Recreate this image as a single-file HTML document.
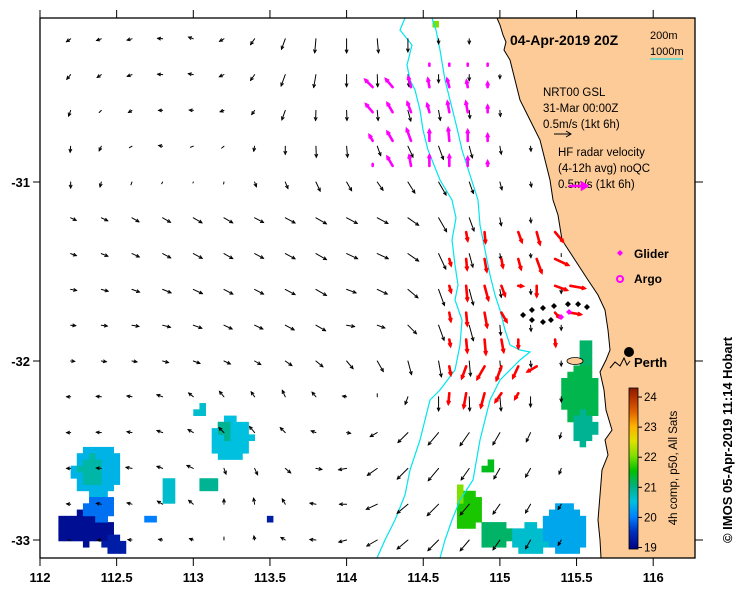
<!DOCTYPE html>
<html><head><meta charset="utf-8">
<style>
html,body{margin:0;padding:0;background:#fff;}
svg{display:block;font-family:"Liberation Sans",sans-serif;}
</style></head>
<body>
<svg id="map" width="739" height="592" viewBox="0 0 739 592" xmlns="http://www.w3.org/2000/svg">
<defs>
<linearGradient id="cbar" x1="0" y1="0" x2="0" y2="1">
<stop offset="0" stop-color="#8b1a00"/><stop offset="0.056" stop-color="#b03000"/>
<stop offset="0.146" stop-color="#e06000"/><stop offset="0.236" stop-color="#ffb000"/>
<stop offset="0.33" stop-color="#e0e000"/><stop offset="0.42" stop-color="#80e000"/>
<stop offset="0.515" stop-color="#00c000"/><stop offset="0.61" stop-color="#00b080"/>
<stop offset="0.705" stop-color="#00c0e0"/><stop offset="0.8" stop-color="#0080ff"/>
<stop offset="0.89" stop-color="#0030c0"/><stop offset="1" stop-color="#000080"/>
</linearGradient>
<clipPath id="plotclip"><rect x="40" y="18" width="655" height="540"/></clipPath>
</defs>
<g id="plot" clip-path="url(#plotclip)">
<g id="sst"></g>
<polygon id="land" fill="#fdcb98" stroke="#000" stroke-width="1"
points="497,18 500,25 503,35 506,42 504,50 510,60 515,80 520,100 530,120 540,140 545,160 550,180 553,200 558,215 562,240 575,260 588,280 598,295 605,310 608,330 610,350 606,360 600,372 604,390 606,410 612,430 605,440 608,455 602,470 600,495 598,520 600,540 601,558 700,558 700,10 497,10"/>
<ellipse cx="575" cy="361" rx="8" ry="3.5" fill="#fdcb98" stroke="#000" stroke-width="0.8"/>
<polyline fill="none" stroke="#00e5ee" stroke-width="1.2" points="405,18 400,30 412,45 407,65 410,80 415,90 420,110 423,130 428,150 440,180 452,200 456,218 452,240 455,265 458,285 455,300 462,320 460,345 455,370 440,390 430,400 425,420 420,440 410,470 405,495 395,520 385,540 377,558"/>
<polyline fill="none" stroke="#00e5ee" stroke-width="1.2" points="432,18 436,30 440,50 445,80 450,100 457,128 462,150 470,175 478,200 480,225 485,250 490,275 495,295 500,310 505,330 510,345 520,350 530,352 520,360 513,367 500,380 490,400 480,440 473,480 460,500 452,520 445,540 440,558"/>
<g id="blackvec"></g>
<g id="magvec"></g>
<g id="redvec"></g>
<g id="glider"></g>
</g>
<rect x="40" y="18" width="655" height="540" fill="none" stroke="#000" stroke-width="1.3"/>
<g id="axes" font-weight="bold" font-size="13"></g>
<!-- legend -->
<text x="510" y="45" font-size="14" font-weight="bold">04-Apr-2019 20Z</text>
<text x="650" y="39" font-size="11">200m</text>
<text x="650" y="55" font-size="11">1000m</text>
<line x1="650" y1="59" x2="683" y2="59" stroke="#00e5ee" stroke-width="1"/>
<text x="543" y="96" font-size="11.5">NRT00 GSL</text>
<text x="543" y="112" font-size="11.5">31-Mar 00:00Z</text>
<text x="543" y="128" font-size="11.5">0.5m/s (1kt 6h)</text>
<g stroke="#000" stroke-width="1"><line x1="554" y1="134" x2="571" y2="134"/><path d="M566,131 L571,134 L566,137" fill="none"/></g>
<text x="558" y="156" font-size="11.5">HF radar velocity</text>
<text x="558" y="172" font-size="11.5">(4-12h avg) noQC</text>
<text x="558" y="188" font-size="11.5">0.5m/s (1kt 6h)</text>
<g stroke="#ff00ff" stroke-width="2.5"><line x1="569" y1="186" x2="586" y2="186"/><path d="M582,183 L587,186 L582,189 Z" fill="#ff00ff"/></g>
<path d="M620,250 L623,253 L620,256 L617,253 Z" fill="#ff00ff"/>
<text x="634" y="258" font-size="12" font-weight="bold">Glider</text>
<circle cx="620" cy="279" r="3" fill="none" stroke="#ff00ff" stroke-width="2"/>
<text x="634" y="283" font-size="12" font-weight="bold">Argo</text>
<circle cx="629" cy="352" r="5" fill="#000"/>
<path d="M610,368 L615,362 L620,366 L624,358 L627,365 L630,361" fill="none" stroke="#000" stroke-width="1"/>
<text x="634" y="367" font-size="13" font-weight="bold">Perth</text>
<rect x="629" y="388" width="9" height="161" fill="url(#cbar)" stroke="#000" stroke-width="0.8"/>
<g id="cbticks" font-size="11.5"></g>
<text transform="translate(677,468) rotate(-90)" text-anchor="middle" font-size="11.5">4h comp, p50, All Sats</text>
<text transform="translate(732,440) rotate(-90)" text-anchor="middle" font-size="13" font-weight="bold">© IMOS 05-Apr-2019 11:14 Hobart</text>
<script>
// ---- data ----
var xTicks = [112, 112.5, 113, 113.5, 114, 114.5, 115, 115.5, 116];
var xTickLabels = ["112","112.5","113","113.5","114","114.5","115","115.5","116"];
var yTicks = [-31, -32, -33];
var yTickLabels = ["-31","-32","-33"];
var cbTicks = [24, 23, 22, 21, 20, 19];
var cbTemps = [24.3, 24, 23.5, 23, 22.5, 22, 21.5, 21, 20.5, 20, 19.5, 19];
var cbColors = ["#8b1a00","#b03000","#e06000","#ffb000","#e0e000","#80e000","#00c000","#00b080","#00c0e0","#0080ff","#0030c0","#000080"];
// model current grid: lon 112.2..115.4 step 0.2, lat -30.2..-33.0 step -0.2; [direction deg toward, length px]
var gridLons = [112.2,112.4,112.6,112.8,113.0,113.2,113.4,113.6,113.8,114.0,114.2,114.4,114.6,114.8,115.0,115.2,115.4];
var gridLats = [-30.2,-30.4,-30.6,-30.8,-31.0,-31.2,-31.4,-31.6,-31.8,-32.0,-32.2,-32.4,-32.6,-32.8,-33.0];
var modelVec = [
[[235,5],[250,5],[255,5],[275,5],[290,5],[240,5],[215,7],[200,11],[185,14],[180,14],[175,14],[180,13],[180,5],[180,5],null,null,null],
[[220,6],[235,5],[250,5],[275,5],[280,5],[245,5],[215,7],[200,12],[190,13],[180,12],[178,12],[175,12],[180,8],[180,6],[180,4],null,null],
[[200,6],[225,3],[240,4],[270,4],[275,4],[250,4],[215,5],[200,10],[182,10],[178,10],[175,10],[165,11],[170,10],[175,8],[175,6],null,null],
[[185,6],[205,5],[240,3],[280,4],[250,3],[230,3],[190,5],[180,8],[178,11],[175,11],[160,10],[155,12],[160,14],[165,12],[170,8],[175,5],null],
[[180,6],[195,5],[200,3],[210,2],[200,1],[190,2],[160,5],[158,7],[155,10],[150,10],[145,10],[148,13],[150,15],[160,12],[165,8],[170,5],null],
[[115,6],[115,7],[120,8],[120,9],[120,10],[120,10],[118,10],[118,11],[120,12],[118,12],[118,12],[125,13],[150,16],[160,14],[170,8],[175,5],null],
[[110,6],[112,7],[115,8],[118,9],[118,10],[120,10],[118,10],[118,11],[120,12],[115,12],[115,12],[125,13],[155,17],[165,14],[170,6],[175,4],[180,3]],
[[100,6],[105,7],[110,8],[112,9],[115,10],[118,10],[118,10],[118,11],[120,12],[110,10],[115,11],[130,13],[160,17],[165,16],[170,8],[175,5],[180,4]],
[[95,5],[98,6],[100,7],[105,8],[110,9],[115,9],[115,9],[118,10],[120,11],[100,8],[110,8],[135,12],[160,16],[165,16],[175,10],[175,6],[180,5]],
[[95,4],[98,5],[100,5],[105,6],[110,7],[115,7],[120,7],[125,8],[130,9],[140,10],[150,12],[165,14],[170,16],[175,15],[175,10],[175,6],[180,5]],
[[270,4],[275,5],[280,5],[290,6],[310,6],[320,7],[325,6],[335,7],[320,6],[280,4],[0,3],[200,8],[180,14],[178,14],[175,14],[180,10],[180,5]],
[[270,4],[275,5],[280,5],[290,6],[300,6],[315,7],[320,8],[315,7],[290,5],[100,4],[240,8],[225,14],[220,16],[215,16],[210,14],[205,10],[195,6]],
[[270,4],[275,5],[280,6],[290,6],[295,7],[160,6],[155,7],[130,7],[100,6],[260,8],[235,12],[225,15],[220,16],[215,14],[210,12],[210,10],[200,6]],
[[275,4],[280,5],[285,5],[300,6],[310,6],[0,5],[350,6],[330,6],[280,6],[270,7],[245,12],[230,14],[225,16],[220,14],[215,12],[210,10],[210,6]],
[[270,3],[270,4],[275,4],[280,4],[290,4],[0,3],[350,4],[300,5],[275,6],[255,8],[240,12],[230,14],[225,15],[220,14],[215,12],[210,10],[210,6]]
];
// HF radar (southern, red)
var redLons = [114.67,114.78,114.90,115.01,115.12,115.24,115.36,115.46];
var redLats = [-31.28,-31.43,-31.58,-31.73,-31.88,-32.03,-32.18];
var redVec = [
[null,[170,8],[175,10],null,[160,10],[165,12],[140,12],null],
[[165,6],[175,10],[170,12],[170,8],[165,10],[160,14],[115,14],null],
[[165,6],[175,14],[165,14],[160,10],[95,4],[180,10],[110,12],[100,14]],
[[170,8],[175,12],[170,14],[150,10],null,null,[140,6],[100,10]],
[[170,6],[175,12],[175,14],[170,12],[180,8],null,[175,6],null],
[[170,8],[200,12],[210,14],[200,14],[205,12],[240,10],null,null],
[[185,10],[190,14],[195,14],[215,10],[210,6],null,null,null]
];
// HF radar (northern, magenta)
var magLons = [114.17,114.30,114.42,114.54,114.67,114.79,114.92];
var magLats = [-30.35,-30.47,-30.61,-30.77,-30.91];
var magVec = [
[null,null,null,[0,2],[0,2],[0,2],[0,2]],
[[315,10],[320,10],[345,10],[350,8],[345,8],[350,6],[0,4]],
[[320,10],[330,10],[340,10],[345,8],[350,10],[350,10],[0,6]],
[[330,6],[330,10],[340,12],[0,10],[355,12],[0,10],[0,6]],
[[0,2],[330,10],[350,10],[0,10],[0,10],[0,8],[0,4]]
];
var gliderLons = [115.151,115.209,115.281,115.353,115.444,115.510,115.568,115.209,115.281,115.333];
var gliderLats = [-31.743,-31.715,-31.704,-31.693,-31.682,-31.682,-31.698,-31.771,-31.782,-31.771];
var gliderNowLons = [115.399,115.451];
var gliderNowLats = [-31.754,-31.726];
// SST blobs: center lon, center lat, radius lon, radius lat, temperature
var sstLon = [112.372,112.339,112.294,112.391,112.489,113.252,113.207,112.835,113.096,113.044,113.5,112.718,115.555,115.522,115.542,114.792,114.74,114.968,115.196,115.425,114.922,114.59];
var sstLat = [-32.609,-32.609,-32.933,-32.821,-33.028,-32.441,-32.385,-32.721,-32.693,-32.274,-32.877,-32.888,-31.950,-32.19,-32.374,-32.832,-32.749,-32.972,-33.0,-32.944,-32.587,-30.106];
var sstRLon = [0.157,0.08,0.195,0.1,0.08,0.13,0.05,0.05,0.065,0.03,0.03,0.025,0.04,0.12,0.08,0.09,0.04,0.1,0.13,0.14,0.025,0.03];
var sstRLat = [0.145,0.085,0.09,0.067,0.045,0.123,0.045,0.067,0.045,0.03,0.025,0.025,0.085,0.17,0.09,0.12,0.045,0.085,0.085,0.14,0.035,0.02];
var sstTemp = [20.4,20.8,19.15,19.9,19.3,20.5,20.9,20.6,20.9,20.6,19.3,20.0,21.1,21.2,20.9,21.6,22.0,21.1,20.6,20.3,21.4,22.0];

// ---- scales ----
function xs(lon){ return 40 + (lon - 112) * 153.3; }
function ys(lat){ return 182 - (lat + 31) * 179; }
var NS = "http://www.w3.org/2000/svg";
function mk(tag, attrs, parent){ var e = document.createElementNS(NS, tag); for (var k in attrs) e.setAttribute(k, attrs[k]); parent.appendChild(e); return e; }
function hex(c){ return [parseInt(c.substr(1,2),16),parseInt(c.substr(3,2),16),parseInt(c.substr(5,2),16)]; }
function tempColor(t){
  for (var i = 0; i < cbTemps.length - 1; i++){
    var a = cbTemps[i], b = cbTemps[i+1];
    if (t <= a && t >= b){ var f = (a - t) / (a - b); var c1 = hex(cbColors[i]), c2 = hex(cbColors[i+1]);
      return "rgb(" + [0,1,2].map(function(j){ return Math.round(c1[j] + (c2[j]-c1[j])*f); }).join(",") + ")"; }
  }
  return t > cbTemps[0] ? cbColors[0] : cbColors[cbColors.length-1];
}
function arrow(g, x, y, deg, len, color, w, headSize){
  var r = deg * Math.PI / 180, dx = len * Math.sin(r), dy = -len * Math.cos(r);
  var x2 = x + dx, y2 = y + dy;
  var grp = mk("g", {}, g);
  
  
  mk("line", {x1:x, y1:y, x2:x2, y2:y2, stroke:color, "stroke-width":w, "stroke-linecap":"round"}, grp);
  if (len > 3){
    var h = headSize, a1 = r + Math.PI - 0.45, a2 = r + Math.PI + 0.45;
    mk("path", {d:"M"+(x2+h*Math.sin(a1))+","+(y2-h*Math.cos(a1))+" L"+x2+","+y2+" L"+(x2+h*Math.sin(a2))+","+(y2-h*Math.cos(a2)), fill:"none", stroke:color, "stroke-width":w}, grp);
  }
}

// SST cells
var sstG = document.getElementById("sst");
var cellLon = 0.04, cellLat = 0.035;
for (var b = 0; b < sstLon.length; b++){
  var l0 = Math.floor((sstLon[b]-sstRLon[b])/cellLon), l1 = Math.ceil((sstLon[b]+sstRLon[b])/cellLon);
  var a0 = Math.floor((sstLat[b]-sstRLat[b])/cellLat), a1 = Math.ceil((sstLat[b]+sstRLat[b])/cellLat);
  for (var i = l0; i <= l1; i++) for (var j = a0; j <= a1; j++){
    var lon = (i+0.5)*cellLon, lat = (j+0.5)*cellLat;
    var ex = (lon - sstLon[b]) / sstRLon[b], ey = (lat - sstLat[b]) / sstRLat[b];
    if (ex*ex + ey*ey > 1) continue;
    var cx = xs(i*cellLon), cy = ys((j+1)*cellLat);
    var c = mk("rect", {x:cx, y:cy, width:cellLon*153.3+0.4, height:cellLat*179+0.4, fill:tempColor(sstTemp[b])}, sstG);
    
    
  }
}
// model vectors
var bg = document.getElementById("blackvec");
for (var r = 0; r < gridLats.length; r++) for (var k = 0; k < gridLons.length; k++){
  var v = modelVec[r][k]; if (!v) continue;
  arrow(bg, xs(gridLons[k]), ys(gridLats[r]), v[0], v[1], "#000", 1, 3.5);
}
var rg = document.getElementById("redvec");
for (var r = 0; r < redLats.length; r++) for (var k = 0; k < redLons.length; k++){
  var v = redVec[r][k]; if (!v) continue;
  arrow(rg, xs(redLons[k]), ys(redLats[r]), v[0], v[1], "#ff0000", 2.6, 3);
}
var mg = document.getElementById("magvec");
for (var r = 0; r < magLats.length; r++) for (var k = 0; k < magLons.length; k++){
  var v = magVec[r][k]; if (!v) continue;
  arrow(mg, xs(magLons[k]), ys(magLats[r]), v[0], v[1], "#ff00ff", 2.6, 3);
}
var gg = document.getElementById("glider");
function diamond(lon, lat, col){
  var x = xs(lon), y = ys(lat);
  var d = mk("path", {d:"M"+x+","+(y-3)+" L"+(x+3)+","+y+" L"+x+","+(y+3)+" L"+(x-3)+","+y+" Z", fill:col}, gg);
  
  
}
for (var i = 0; i < gliderLons.length; i++) diamond(gliderLons[i], gliderLats[i], "#000");
for (var i = 0; i < gliderNowLons.length; i++) diamond(gliderNowLons[i], gliderNowLats[i], "#ff00ff");

// axes
var ax = document.getElementById("axes");
for (var i = 0; i < xTicks.length; i++){
  var x = xs(xTicks[i]);
  mk("line", {x1:x, y1:558, x2:x, y2:566, stroke:"#000"}, ax);
  mk("line", {x1:x, y1:10, x2:x, y2:18, stroke:"#000"}, ax);
  var t = mk("text", {x:x, y:582, "text-anchor":"middle"}, ax); t.textContent = xTickLabels[i];
  
  
}
for (var i = 0; i < yTicks.length; i++){
  var y = ys(yTicks[i]);
  mk("line", {x1:33, y1:y, x2:40, y2:y, stroke:"#000"}, ax);
  mk("line", {x1:695, y1:y, x2:703, y2:y, stroke:"#000"}, ax);
  var t = mk("text", {x:30, y:y+5, "text-anchor":"end"}, ax); t.textContent = yTickLabels[i];
  
  
}
var cb = document.getElementById("cbticks");
for (var i = 0; i < cbTicks.length; i++){
  var y = 388 + (24.3 - cbTicks[i]) / (24.3 - 18.95) * 161;
  mk("line", {x1:638, y1:y, x2:642, y2:y, stroke:"#000"}, cb);
  var t = mk("text", {x:644, y:y+4}, cb); t.textContent = cbTicks[i];
  
  
}
</script>
</svg>
</body></html>
